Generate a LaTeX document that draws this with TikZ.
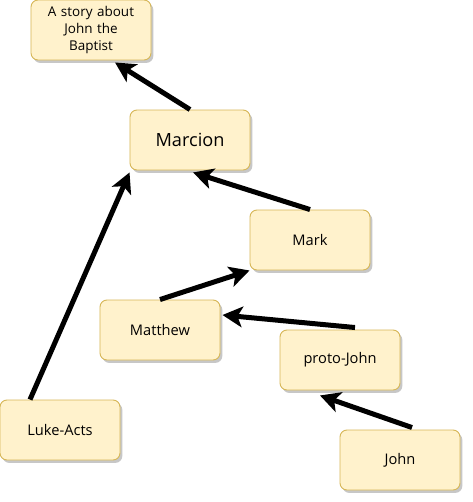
\documentclass[tikz,border=0pt]{standalone}
\usepackage{fontspec}
\setmainfont{Open Sans}
\usetikzlibrary{arrows.meta, calc, shadows}
\definecolor{notefill}{HTML}{FFF2CC}
\definecolor{notedraw}{HTML}{D6B656}
\tikzset{
  gospel/.style={rectangle, rounded corners=6pt, draw=notedraw, fill=notefill,
    line width=0.8pt, minimum width=3.6cm, minimum height=1.8cm,
    text width=3.3cm, align=center, font=\fontsize{12.5}{14}\selectfont,
    drop shadow={shadow xshift=2pt, shadow yshift=-2.5pt, fill=black, opacity=0.22}},
  biggospel/.style={gospel, font=\fontsize{15.5}{17}\selectfont},
  smallgospel/.style={gospel, font=\fontsize{11.5}{14.5}\selectfont},
  arrow/.style={-{Stealth[length=0.6cm, width=0.62cm, inset=0.15cm]},
    line width=0.15cm, color=black},
}

\begin{document}
\begin{tikzpicture}[x=0.03cm, y=-0.03cm]
  \useasboundingbox (0,0) rectangle (472,502);

  % Boxes
  \node[smallgospel] (story)   at (91,30)   {A story about\\John the\\Baptist};
  \node[biggospel]   (marcion) at (190,140) {Marcion};
  \node[gospel]      (mark)    at (310,240) {Mark};
  \node[gospel]      (matthew) at (160,330) {Matthew};
  \node[gospel]      (proto)   at (340,360) {proto-John};
  \node[gospel]      (luke)    at (60,430)  {Luke-Acts};
  \node[gospel]      (john)    at (400,460) {John};

  % Arrows
  \draw[arrow] (marcion.north) -- ($(story.south)+(24,2)$);
  \draw[arrow] (mark.north) -- ($(marcion.south)+(3,2)$);
  \draw[arrow] ($(luke.north)+(-30,0)$) -- ($(marcion.south west)+(0,2)$);
  \draw[arrow] (matthew.north) -- (mark.south west);
  \draw[arrow] ($(proto.north)+(15,-2)$) -- ($(matthew.east)+(2,-15)$);
  \draw[arrow] ($(john.north)+(12,-2)$) -- ($(proto.south)+(-20,5)$);
\end{tikzpicture}
\end{document}
